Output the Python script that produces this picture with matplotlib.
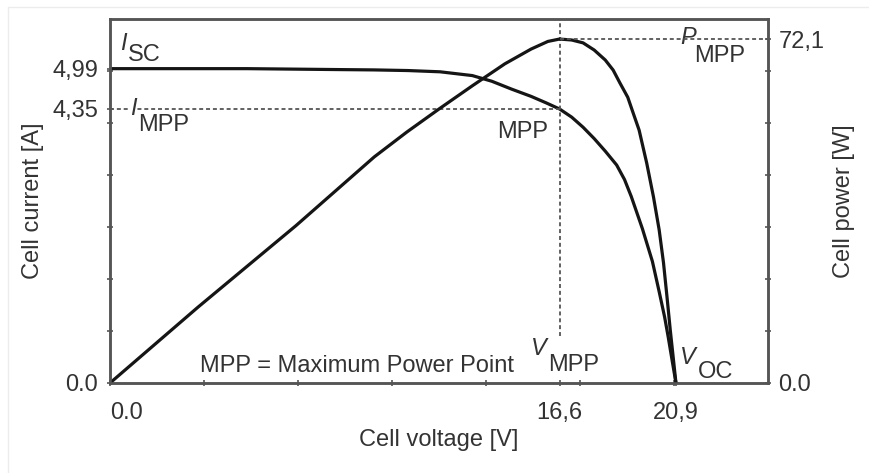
import matplotlib.pyplot as plt
import numpy as np
from matplotlib.patches import Rectangle

# Values (schematic solar cell curves)
voltage_i = [0, 5.06, 8.5, 9.76, 11.0, 12.19, 13.38, 14.10, 14.83, 15.55, 16.09,
             16.6, 17.05, 17.47, 17.88, 18.29, 18.71, 19.0, 19.25, 19.66, 20.03,
             20.28, 20.48, 20.61, 20.75, 20.9]
current = [4.99, 4.99, 4.975, 4.97, 4.96, 4.94, 4.88, 4.79, 4.665, 4.55, 4.45,
           4.35, 4.22, 4.06, 3.88, 3.68, 3.46, 3.23, 2.96, 2.45, 1.93,
           1.45, 1.05, 0.74, 0.38, 0.0]

voltage_p = [0, 3.25, 6.87, 9.76, 10.96, 12.19, 13.38, 14.58, 15.55, 16.17, 16.6,
             17.05, 17.47, 17.88, 18.29, 18.58, 18.83, 19.12, 19.32, 19.54, 19.82,
             20.07, 20.28, 20.44, 20.57, 20.69, 20.9]
power = [0, 15.9, 33.0, 47.4, 52.6, 57.6, 62.3, 66.9, 70.0, 71.6, 72.1,
         71.9, 71.3, 69.8, 67.7, 65.6, 62.9, 59.9, 56.6, 53.0, 46.1,
         39.0, 32.1, 25.2, 18.0, 11.1, 0.0]

v_mpp, v_oc = 16.6, 20.9
i_sc, i_mpp = 4.99, 4.35
p_mpp = 72.1

x_ticks = [0, v_mpp, v_oc]
x_ticklabels = ['0.0', '16,6', '20,9']
i_ticks = [0, i_mpp, i_sc]
i_ticklabels = ['0.0', '4,35', '4,99']
p_ticks = [0, p_mpp]
p_ticklabels = ['0.0', '72,1']

plt.rcParams['font.family'] = ['Liberation Sans', 'DejaVu Sans']
plt.rcParams['font.size'] = 17
txt = '#333333'
spine_c = '#555555'
curve_c = '#151515'
dash = (0, (2.2, 1.6))

fig = plt.figure(figsize=(8.69, 4.73), dpi=100)
fig.patches.append(Rectangle((8 / 869, -0.05), 1.1, 1 - 7 / 473 + 0.05,
                             transform=fig.transFigure, fill=False,
                             edgecolor='#ececec', lw=1))
ax = fig.add_axes([0.1266, 0.1903, 0.7572, 0.7695])
ax2 = ax.twinx()

xmax = 24.3
ax.set_xlim(0, xmax)
ax.set_ylim(0, 5.778)
ax2.set_ylim(0, 76.3)

# curves
ax.plot(voltage_i, current, color=curve_c, lw=2.3,
        solid_capstyle='round', solid_joinstyle='round')
ax2.plot(voltage_p, power, color=curve_c, lw=2.3,
         solid_capstyle='round', solid_joinstyle='round')

# MPP guide lines
ax.hlines(i_mpp, 0, v_mpp, colors='#555555', lw=1.3, linestyles=[dash])
ax2.hlines(p_mpp, v_mpp, xmax, colors='#555555', lw=1.3, linestyles=[dash])
ax.axvline(v_mpp, ymin=0.13, ymax=1, color='#555555', lw=1.3, linestyle=dash)

# ticks
ax.set_xticks(x_ticks)
ax.set_xticklabels(x_ticklabels)
ax.get_xticklabels()[0].set_horizontalalignment('left')
ax.set_yticks(i_ticks)
ax.set_yticklabels(i_ticklabels)
ax2.set_yticks(p_ticks)
ax2.set_yticklabels(p_ticklabels)
ax.set_xticks(np.arange(1, 7) * 3.47, minor=True)
ax.set_yticks(np.arange(1, 7) * 0.825, minor=True)
ax2.set_yticks(np.arange(1, 7) * 10.9, minor=True)

for a in (ax, ax2):
    a.tick_params(which='both', direction='inout', length=5, width=1.2,
                  color=spine_c, labelcolor=txt)
    for s in a.spines.values():
        s.set_color(spine_c)
        s.set_linewidth(1.8)
ax.tick_params(axis='x', which='major', pad=11)
ax.tick_params(axis='y', which='major', pad=6)
ax2.tick_params(axis='y', which='major', pad=5)

ax.set_xlabel('Cell voltage [V]', color=txt, labelpad=4)
ax.set_ylabel('Cell current [A]', color=txt, labelpad=6)
ax2.set_ylabel('Cell power [W]', color=txt, labelpad=6)

# annotations
ta = ax.transAxes
bx = ax.get_xaxis_transform()
ax.text(0.0152, 0.934, 'I', style='italic', color=txt, va='center', transform=ta)
ax.text(0.0274, 0.901, 'SC', color=txt, va='center', transform=ta)
ax.text(0.0304, 0.753, 'I', style='italic', color=txt, va='center', transform=ta,
        bbox=dict(facecolor='white', edgecolor='none', pad=0))
ax.text(0.0426, 0.709, 'MPP', color=txt, va='center', transform=ta)
ax.text(v_mpp - 1.37, 0.690, 'MPP', color=txt, va='center', ha='center', transform=bx)
ax.text(0.866, 0.948, 'P', style='italic', color=txt, va='center', transform=ta,
        bbox=dict(facecolor='white', edgecolor='none', pad=0))
ax.text(0.888, 0.898, 'MPP', color=txt, va='center', transform=ta)
ax.text(v_mpp - 1.05, 0.096, 'V', style='italic', color=txt, va='center', transform=bx)
ax.text(v_mpp - 0.42, 0.050, 'MPP', color=txt, va='center', transform=bx)
ax.text(v_oc + 0.15, 0.071, 'V', style='italic', color=txt, va='center', transform=bx)
ax.text(v_oc + 0.80, 0.030, 'OC', color=txt, va='center', transform=bx)
ax.text(0.137, 0.047, 'MPP = Maximum Power Point', color=txt, va='center', transform=ta)

fig.savefig('out.png', dpi=100, facecolor='white')
